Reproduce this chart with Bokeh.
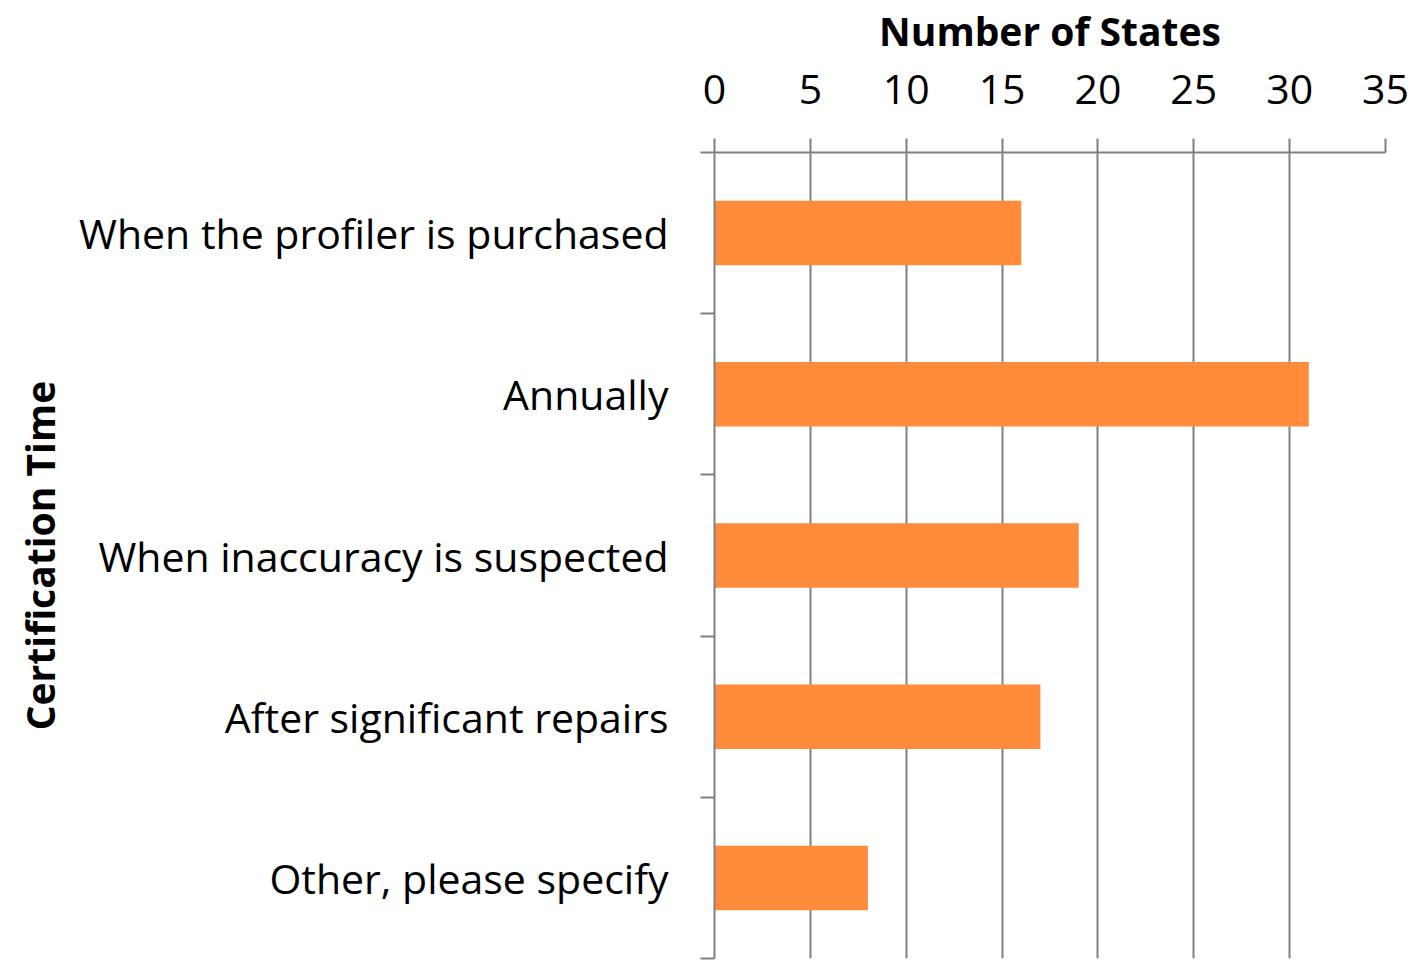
from bokeh.plotting import figure
from bokeh.models import Range1d, FixedTicker, Title, ColumnDataSource
from bokeh.embed import file_html
from bokeh.resources import INLINE

categories = ["When the profiler is purchased", "Annually", "When inaccuracy is suspected",
              "After significant repairs", "Other, please specify"]
values = [16, 31, 19, 17, 8]
x_ticks = [0, 5, 10, 15, 20, 25, 30, 35]
x_title = "Number of States"
y_title = "Certification Time"

FONT = "Open Sans"
GRAY = "#808080"

positions = [i + 0.5 for i in range(len(categories))]
src = ColumnDataSource(dict(y=positions, v=values, cat=categories))

p = figure(width=1416, height=961, output_backend="svg", toolbar_location=None,
           x_range=Range1d(0, 35), y_range=Range1d(len(categories), 0),
           x_axis_location="above", min_border_left=714, min_border_top=152,
           min_border_bottom=3, min_border_right=31)
p.outline_line_color = None
p.background_fill_color = "white"
p.border_fill_color = "white"

p.hbar(y="y", right="v", left=0, height=0.4, source=src, color="#FF8B3B", line_color=None)

# x axis (top)
xa = p.xaxis[0]
xa.ticker = FixedTicker(ticks=x_ticks, minor_ticks=[])
xa.axis_line_color = GRAY
xa.axis_line_width = 2
xa.major_tick_line_color = GRAY
xa.major_tick_line_width = 2
xa.major_tick_out = 14
xa.major_tick_in = 0
xa.minor_tick_line_color = None
xa.major_label_text_font = FONT
xa.major_label_text_font_size = "41px"
xa.major_label_text_color = "black"
xa.major_label_standoff = 35
xa.axis_label = x_title
xa.axis_label_text_font = FONT
xa.axis_label_text_font_size = "39px"
xa.axis_label_text_font_style = "bold"
xa.axis_label_text_color = "black"
xa.axis_label_standoff = 15

# y axis (left)
ya = p.yaxis[0]
ya.ticker = FixedTicker(ticks=positions, minor_ticks=list(range(len(categories) + 1)))
ya.major_label_overrides = {pos: c for pos, c in zip(positions, categories)}
ya.axis_line_color = GRAY
ya.axis_line_width = 2
ya.major_tick_line_color = None
ya.major_tick_out = 0
ya.major_tick_in = 0
ya.minor_tick_line_color = GRAY
ya.minor_tick_line_width = 2
ya.minor_tick_out = 14
ya.minor_tick_in = 0
ya.major_label_text_font = FONT
ya.major_label_text_font_size = "41px"
ya.major_label_text_color = "black"
ya.major_label_standoff = 32

p.add_layout(Title(text=y_title, align="center", text_font=FONT,
                   text_font_size="39px", text_font_style="bold", text_color="black",
                   standoff=21), "left")

p.xgrid.ticker = FixedTicker(ticks=x_ticks)
p.xgrid.grid_line_color = GRAY
p.xgrid.grid_line_width = 2
p.ygrid.grid_line_color = None

open("out.html", "w").write(file_html(p, INLINE))
